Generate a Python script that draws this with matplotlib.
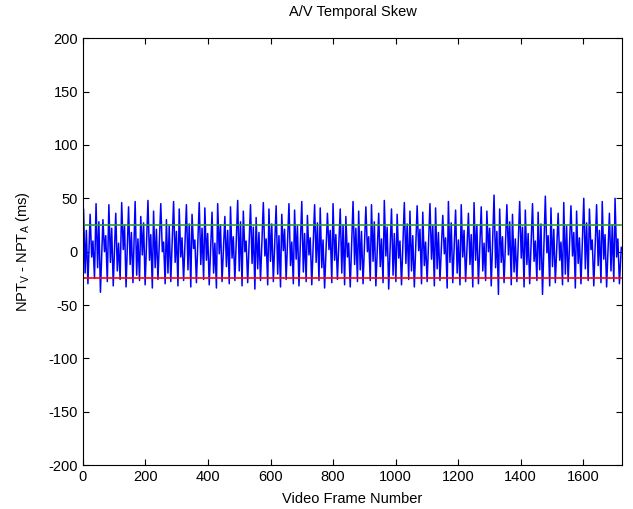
import matplotlib
matplotlib.use("Agg")
import matplotlib.pyplot as plt

plt.rcParams['font.family'] = ['Liberation Sans', 'DejaVu Sans']
plt.rcParams['mathtext.default'] = 'regular'
plt.rcParams['axes.unicode_minus'] = False

peak_frames = [2, 23, 42, 64, 83, 105, 124, 146, 167, 185, 208, 226, 249, 267, 290, 308,
               331, 349, 372, 390, 413, 431, 454, 472, 495, 513, 536, 554, 577, 595, 618,
               636, 659, 677, 700, 718, 741, 759, 782, 800, 823, 841, 864, 882, 905, 923,
               946, 964, 987, 1005, 1028, 1046, 1069, 1087, 1110, 1128, 1151, 1169, 1192,
               1210, 1233, 1251, 1274, 1292, 1315, 1333, 1356, 1374, 1397, 1415, 1438,
               1456, 1479, 1497, 1520, 1538, 1561, 1579, 1602, 1620, 1643, 1661, 1684, 1702]
peak_ms = [40, 35, 45, 30, 44, 36, 46, 42, 47, 33, 48, 38, 45, 30, 47, 40, 44, 35, 46, 41,
           37, 45, 33, 42, 48, 38, 44, 32, 46, 40, 43, 35, 45, 39, 47, 34, 44, 41, 36, 45,
           40, 33, 47, 38, 42, 44, 36, 48, 40, 35, 46, 38, 43, 37, 45, 41, 34, 47, 39, 44,
           36, 46, 42, 38, 53, 40, 44, 35, 47, 39, 45, 37, 52, 41, 36, 46, 43, 38, 50, 40,
           44, 47, 36, 50]
dip_ms = [-20, -5, -15, 0, -10, -18, 2, -12, -22, -3, -8, -15, 0, -20, -10, -5, -17, 3,
          -12, -8, -20, -2, -14, -6, -18, 0, -11, -16, -4, -9, -21, 1, -13, -7, -19, -3,
          -10, -15, 2, -8, -20, -5, -12, -17, 0, -9, -14, -4, -22, -6, -11, -18, 1, -13,
          -7, -16, -2, -10, -20, -5, -12, -8, -18, 0, -15, -10, -3, -19, -6, -12, -9, -17,
          -1, -14, -8, -21, -4, -11, -16, 2, -13, -7, -18, -5]
bump_ms = [20, 10, 28, 15, 22, 8, 25, 18, 12, 27, 16, 21, 9, 24, 19, 13, 26, 11, 22, 17,
           8, 25, 20, 14, 28, 10, 23, 18, 12, 26, 15, 21, 9, 24, 17, 13, 27, 11, 20, 16,
           25, 8, 22, 19, 14, 28, 12, 23, 17, 10, 26, 15, 21, 9, 24, 18, 13, 27, 11, 20,
           16, 25, 8, 22, 19, 14, 28, 12, 23, 17, 10, 26, 15, 21, 9, 24, 18, 13, 27, 11,
           20, 16, 25, 12]
trough_ms = [-30, -25, -38, -28, -32, -26, -33, -29, -27, -31, -34, -26, -30, -28, -32,
             -27, -33, -29, -26, -31, -34, -28, -30, -27, -32, -29, -35, -27, -31, -28,
             -33, -26, -30, -32, -28, -31, -27, -34, -29, -26, -31, -33, -28, -30, -27,
             -32, -29, -35, -28, -31, -26, -33, -30, -28, -32, -27, -34, -29, -31, -28,
             -33, -30, -27, -32, -40, -29, -31, -28, -33, -30, -27, -40, -32, -29, -31,
             -28, -34, -30, -27, -32, -29, -33, -28, -30]
start_ms = -18
end_frame, end_ms = 1722, 4

upper_limit = 25
lower_limit = -25

frames = [0]
skew = [start_ms]
for pf, p, d, b, t in zip(peak_frames, peak_ms, dip_ms, bump_ms, trough_ms):
    frames += [pf, pf + 5, pf + 9, pf + 14]
    skew += [p, d, b, t]
frames.append(end_frame)
skew.append(end_ms)

fig = plt.figure(figsize=(6.33, 5.09), dpi=100)
ax = fig.add_axes([0.131, 0.086, 0.852, 0.839])

ax.plot(frames, skew, color='blue', lw=1.1)
ax.plot([0, end_frame], [upper_limit, upper_limit], color='#339933', lw=1.2)
ax.plot([0, end_frame], [lower_limit, lower_limit], color='red', lw=1.2)

ax.set_xlim(0, 1725)
ax.set_ylim(-200, 200)
ax.set_xticks(range(0, 1601, 200))
ax.set_yticks(range(-200, 201, 50))
ax.tick_params(direction='in', top=True, right=True, length=4, width=0.8, labelsize=10.5)
for s in ax.spines.values():
    s.set_linewidth(0.8)

ax.set_title('A/V Temporal Skew', fontsize=10.5, pad=16)
ax.set_xlabel('Video Frame Number', fontsize=10.5, labelpad=6)
ax.set_ylabel(r'NPT$_{V}$ - NPT$_{A}$ (ms)', fontsize=10.5, labelpad=12)

fig.savefig('out.png', dpi=100)
